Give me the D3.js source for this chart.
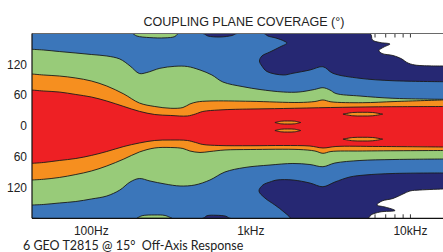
<!DOCTYPE html>
<html><head><meta charset="utf-8">
<script src="https://cdn.jsdelivr.net/npm/d3@7"></script>
<style>body{margin:0;background:#fff}svg{display:block}</style>
</head><body>
<svg id="chart" width="443" height="252"></svg>
<script>
// ---------- data ----------
const title = "COUPLING PLANE COVERAGE (°)";
const subtitle = "6 GEO T2815 @ 15°  Off-Axis Response";
const freqDomain = [42.5, 16000];
const angleDomain = [-180, 180];
const xTickFreqs = [100, 1000, 10000];
const xTickLabels = ["100Hz", "1kHz", "10kHz"];
const yTickValues = [120, 60, 0, -60, -120];
const yTickLabels = ["120", "60", "0", "60", "120"];
const minorTickFreqs = [6000, 7000, 8000, 9000, 10000];

// contour boundaries: [frequency Hz, angle deg]
const navyTop = [[42.5,180],[5574,180],[5781,167.3],[6440,162.5],[7440,159.5],[6822,153.7],[6349,146.9],[6630,141.1],[7770,137.1],[8845,130.3],[9503,123.5],[10670,118.6],[16000,116.7]];
const navyBottom = [[42.5,-180],[5420,-180],[5657,-173.6],[6440,-167.7],[8000,-164.8],[6920,-158.0],[6167,-154.1],[6630,-146.3],[7770,-141.4],[8975,-132.7],[9928,-126.8],[11470,-124.9],[16000,-122.9]];
const blueTop = [[42.5,180],[500,180],[538,175.1],[640,173.2],[761,176.1],[818,180],[1208,180],[1280,175.1],[1437,171.2],[1612,165.4],[1683,161.5],[1521,153.7],[1317,144.0],[1173,136.2],[1132,126.5],[1173,116.7],[1261,106.0],[1600,99.2],[1835,102.5],[2345,108.9],[2830,115.3],[3270,102.5],[4825,92.7],[7770,88.0],[16000,86.1]];
const blueBottom = [[42.5,-180],[500,-180],[531,-175],[604,-174.1],[698,-176],[740,-180],[1757,-180],[1612,-167.7],[1415,-154.1],[1225,-140.5],[1124,-126.8],[1190,-115.1],[1317,-109.3],[1457,-105.4],[1835,-105.4],[2345,-111.3],[2830,-118.5],[3364,-109.3],[4177,-99.5],[5186,-95.7],[7770,-92.7],[16000,-91.7]];
const greenTop = [[42.5,149.2],[50,147.9],[63,144.9],[80,142.0],[100,139.1],[125,136.2],[151,130.3],[175,116.7],[200,102.1],[223,104.0],[269,112.2],[334,116.1],[400,115.7],[480,108.9],[570,99.2],[668,85.5],[892,76.4],[1140,70.9],[1600,66.0],[2000,66.0],[2500,70.9],[2830,74.4],[3130,69.9],[3413,63.1],[4825,58.2],[7770,53.8],[16000,51.8]];
const greenBottom = [[42.5,-154.1],[50,-153.1],[63,-150.2],[80,-147.3],[100,-142.4],[125,-136.6],[151,-124.9],[175,-109.3],[200,-102.5],[233,-107.3],[290,-113.2],[360,-117.1],[446,-115.1],[554,-105.4],[688,-89.8],[918,-81.0],[1317,-76.2],[1835,-73.2],[2345,-75.2],[2830,-79.5],[3364,-72.3],[4825,-67.4],[7770,-65.5],[16000,-64.5]];
const orangeTop = [[42.5,101.1],[50,99.2],[63,97.2],[80,93.3],[100,87.5],[125,77.7],[160,62.1],[200,44.6],[250,37.8],[315,34.3],[375,35.8],[415,42.7],[459,46.6],[554,48.5],[1000,47.9],[2000,45.6],[2520,47.5],[2830,50.5],[3176,46.9],[5000,45.2],[8000,47.5],[16000,50.5]];
const orangeBottom = [[42.5,-105.4],[50,-104.0],[63,-100.5],[80,-94.7],[100,-87.9],[125,-78.1],[160,-64.5],[200,-50.9],[250,-43.0],[315,-42.1],[375,-44.0],[415,-48.9],[480,-51.8],[554,-49.9],[688,-46.9],[1000,-46.0],[2000,-46.0],[2520,-48.9],[2830,-53.4],[3176,-49.9],[5000,-48.9],[16000,-47.9]];
const redTop = [[42.5,69.9],[50,68.0],[63,66.0],[80,61.2],[100,56.3],[125,48.5],[160,37.8],[200,28.4],[250,22.2],[315,20.3],[400,19.3],[450,23.2],[500,28.1],[630,31.0],[800,32.3],[1000,32.9],[1600,33.9],[3150,35.8],[6300,37.2],[16000,37.8]];
const redBottom = [[42.5,-72.9],[50,-71.3],[63,-67.4],[80,-63.5],[100,-57.6],[125,-49.9],[160,-40.1],[200,-33.3],[250,-28.4],[315,-27.5],[400,-28.4],[450,-32.3],[500,-36.2],[630,-38.2],[1000,-38.6],[1600,-38.2],[2345,-39.2],[2830,-43.0],[3413,-40.1],[6300,-40.1],[16000,-41.1]];

// edge islands (green touching ±180)
const greenEdgeTopFreqs = [182,193,233,290,334,349];
const greenEdgeTopLo    = [180,175.1,172,171.5,174.1,180];
const greenEdgeBotFreqs = [193,208,250,290,320];
const greenEdgeBotHi    = [-180,-175,-173.5,-174.5,-180];

// orange islands inside the red region
const island1Freqs = [1415,1550,1700,1880,2052];
const island1aHi = [6.6,9.2,9.6,9.2,6.6],   island1aLo = [6.6,4.0,3.6,4.0,6.6];
const island1bHi = [-9.0,-6.4,-6.0,-6.4,-9.0], island1bLo = [-9.0,-11.6,-12.0,-11.6,-9.0];
const island2Freqs = [3778,4350,5030,5800,6697];
const island2aHi = [22.9,26.1,26.5,26.1,22.9], island2aLo = [22.9,19.7,19.3,19.7,22.9];
const island2bHi = [-25.8,-22.6,-22.2,-22.6,-25.8], island2bLo = [-25.8,-29.0,-29.4,-29.0,-25.8];

const colors = {navy:"#262873", blue:"#3B76BA", green:"#98CB79", orange:"#F68F1F", red:"#EE2024"};

// ---------- drawing ----------
const svg = d3.select("#chart");
const L = 32, R = 443, T = 33.5, B = 218.3;
const x = d3.scaleLog().domain(freqDomain).range([L, R]);
const y = d3.scaleLinear().domain(angleDomain).range([B, T]);

svg.append("defs").append("clipPath").attr("id","clip")
  .append("rect").attr("x",L).attr("y",T).attr("width",R-L).attr("height",B-T);

const plot = svg.append("g").attr("clip-path","url(#clip)");

// minor ticks under the fills (only visible in white regions)
plot.selectAll("line.tt").data(minorTickFreqs).join("line")
  .attr("x1",d=>x(d)).attr("x2",d=>x(d)).attr("y1",T).attr("y2",T+4)
  .attr("stroke","#000").attr("stroke-width",0.8);
plot.selectAll("line.tb").data(minorTickFreqs).join("line")
  .attr("x1",d=>x(d)).attr("x2",d=>x(d)).attr("y1",B).attr("y2",B-4)
  .attr("stroke","#000").attr("stroke-width",0.8);

const line = d3.line().x(d=>x(d[0])).y(d=>y(d[1])).curve(d3.curveCatmullRom.alpha(0.5));
const strokeCol = "#1b1b1b", sw = 0.9;

function band(top, bottom, col){
  const pt = line(top);
  const pb = line(bottom.slice().reverse()).replace(/^M/,"L");
  plot.append("path").attr("d", pt + pb + "Z").attr("fill", col).attr("stroke","none");
  plot.append("path").attr("d", line(top)).attr("fill","none").attr("stroke",strokeCol).attr("stroke-width",sw);
  plot.append("path").attr("d", line(bottom)).attr("fill","none").attr("stroke",strokeCol).attr("stroke-width",sw);
}
function island(freqs, hi, lo, col){
  const data = freqs.map((f,i)=>({f, hi:hi[i], lo:lo[i]}));
  const area = d3.area().x(d=>x(d.f)).y0(d=>y(d.lo)).y1(d=>y(d.hi)).curve(d3.curveCatmullRom.alpha(0.5));
  plot.append("path").attr("d", area(data)).attr("fill", col).attr("stroke",strokeCol).attr("stroke-width",sw);
}

band(navyTop, navyBottom, colors.navy);
band(blueTop, blueBottom, colors.blue);
band(greenTop, greenBottom, colors.green);
island(greenEdgeTopFreqs, greenEdgeTopFreqs.map(()=>180), greenEdgeTopLo, colors.green);
island(greenEdgeBotFreqs, greenEdgeBotHi, greenEdgeBotFreqs.map(()=>-180), colors.green);
band(orangeTop, orangeBottom, colors.orange);
band(redTop, redBottom, colors.red);
island(island1Freqs, island1aHi, island1aLo, colors.orange);
island(island1Freqs, island1bHi, island1bLo, colors.orange);
island(island2Freqs, island2aHi, island2aLo, colors.orange);
island(island2Freqs, island2bHi, island2bLo, colors.orange);

// frame
svg.append("line").attr("x1",L).attr("x2",R).attr("y1",T).attr("y2",T).attr("stroke","#6a6a6a").attr("stroke-width",1);
svg.append("line").attr("x1",L).attr("x2",L).attr("y1",T).attr("y2",B).attr("stroke","#111").attr("stroke-width",1.2);
svg.append("line").attr("x1",L).attr("x2",R).attr("y1",B).attr("y2",B).attr("stroke","#111").attr("stroke-width",1.2);

// y labels
svg.selectAll("text.yl").data(yTickValues).join("text")
  .attr("x",27).attr("y",d=>y(d)).attr("dy","0.36em").attr("text-anchor","end")
  .attr("font-family","Liberation Sans, Arial, sans-serif").attr("font-size",12).attr("fill","#222")
  .text((d,i)=>yTickLabels[i]);

// x labels
svg.selectAll("text.xl").data(xTickFreqs).join("text")
  .attr("x",d=>x(d)).attr("y",235).attr("text-anchor","middle")
  .attr("font-family","Liberation Sans, Arial, sans-serif").attr("font-size",12).attr("fill","#222")
  .text((d,i)=>xTickLabels[i]);

svg.append("text").attr("x",244).attr("y",26).attr("text-anchor","middle")
  .attr("font-family","Liberation Sans, Arial, sans-serif").attr("font-size",12.5).attr("fill","#222")
  .text(title);

svg.append("text").attr("x",23).attr("y",249.5)
  .style("white-space","pre")
  .attr("font-family","Lato, 'Open Sans', sans-serif").attr("font-size",12.5).attr("fill","#222")
  .text(subtitle);
</script>
</body></html>
